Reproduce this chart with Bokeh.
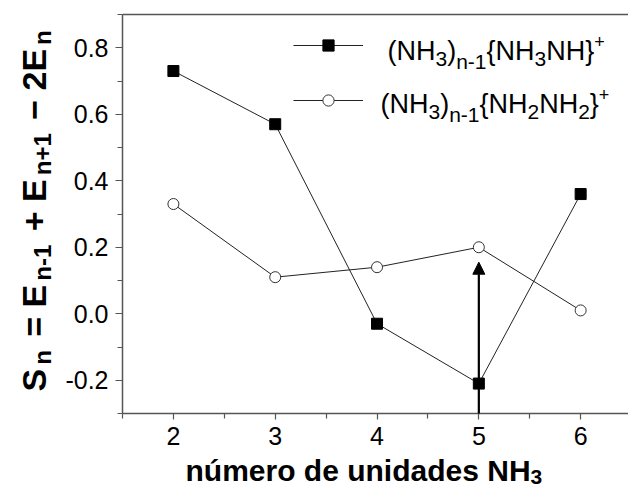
import math
from bokeh.plotting import figure
from bokeh.models import (Range1d, Label, Arrow, NormalHead, FixedTicker, LinearAxis,
                          NumeralTickFormatter, Legend, LegendItem)
from bokeh.embed import file_html
from bokeh.resources import INLINE

# ---- data ----
n_units = [2, 3, 4, 5, 6]
s_nh3nh = [0.73, 0.57, -0.03, -0.21, 0.36]
s_nh2nh2 = [0.33, 0.11, 0.14, 0.20, 0.01]
x_ticks = [2, 3, 4, 5, 6]
y_ticks = [-0.2, 0.0, 0.2, 0.4, 0.6, 0.8]
x_minor = [1.5, 2.5, 3.5, 4.5, 5.5]
y_minor = [-0.3, -0.1, 0.1, 0.3, 0.5, 0.7, 0.9]
x_lo, x_hi = 1.5, 6.47
y_lo, y_hi = -0.3, 0.9
arrow_x = 5
arrow_from = -0.3
arrow_to = 0.155

FONT = "Liberation Sans"
W, H = 628, 488
FL, FT, FB = 122, 14, 413  # plot area left, top, bottom (canvas px)

# frame covers the whole canvas; axes are drawn at fixed data locations
xs = (x_hi - x_lo) / (W - FL)
ys = (y_hi - y_lo) / (FB - FT)
p = figure(width=W, height=H, output_backend="svg", toolbar_location=None,
           x_range=Range1d(x_lo - FL * xs, x_hi),
           y_range=Range1d(y_lo - (H - FB) * ys, y_hi + FT * ys),
           x_axis_type=None, y_axis_type=None,
           min_border=0, min_border_left=0, min_border_right=0,
           min_border_top=0, min_border_bottom=0)
p.grid.visible = False
p.outline_line_color = None
p.background_fill_color = "white"
p.border_fill_color = "white"

AX = "#555555"
xaxis = LinearAxis(fixed_location=y_lo, bounds=(x_lo, x_hi),
                   ticker=FixedTicker(ticks=x_ticks, minor_ticks=x_minor))
yaxis = LinearAxis(fixed_location=x_lo, bounds=(y_lo, y_hi),
                   ticker=FixedTicker(ticks=y_ticks, minor_ticks=y_minor),
                   formatter=NumeralTickFormatter(format="0.0"))
topaxis = LinearAxis(fixed_location=y_hi, bounds=(x_lo, x_hi),
                     ticker=FixedTicker(ticks=[], minor_ticks=[]),
                     major_label_text_font_size="0px")
for ax in (xaxis, yaxis, topaxis):
    ax.axis_line_color = AX
    ax.axis_line_width = 1.5
    ax.major_tick_line_color = AX
    ax.minor_tick_line_color = AX
    ax.major_tick_line_width = 1.2
    ax.minor_tick_line_width = 1.2
    ax.major_tick_in = 0
    ax.minor_tick_in = 0
    ax.major_label_text_font = FONT
    ax.major_label_text_color = "black"
xaxis.major_label_text_font_size = "25px"
yaxis.major_label_text_font_size = "25px"
xaxis.major_tick_out = 6
xaxis.minor_tick_out = 5
yaxis.major_tick_out = 7
yaxis.minor_tick_out = 5
xaxis.major_label_standoff = 7
yaxis.major_label_standoff = 7
p.add_layout(xaxis, "below")
p.add_layout(yaxis, "left")
p.add_layout(topaxis, "above")

LINE = "#222222"
l1 = p.line(n_units, s_nh3nh, line_color=LINE, line_width=1)
m1 = p.scatter(n_units, s_nh3nh, marker="square", size=11, fill_color="black", line_color="black")
l2 = p.line(n_units, s_nh2nh2, line_color=LINE, line_width=1)
m2 = p.scatter(n_units, s_nh2nh2, marker="circle", size=11, fill_color="white", line_color="#333333", line_width=1)

p.add_layout(Arrow(end=NormalHead(size=12, fill_color="black", line_color="black"),
                   x_start=arrow_x, y_start=arrow_from, x_end=arrow_x, y_end=arrow_to,
                   line_width=2.2, line_color="black"))

legend = Legend(items=[LegendItem(label=" ", renderers=[l1, m1]),
                       LegendItem(label=" ", renderers=[l2, m2])],
                location=(293, H - 114), glyph_width=70, glyph_height=28,
                spacing=27, padding=0, margin=0, label_text_font_size="1px",
                label_width=0, label_standoff=0, border_line_color=None,
                background_fill_alpha=0)
p.add_layout(legend)

W_REG = {'(': 333, ')': 333, 'N': 722, 'H': 722, '3': 556, '2': 556, '1': 556,
         'n': 556, '-': 333, '{': 334, '}': 334, '+': 584, ' ': 278}
W_BOLD = {'S': 667, 'n': 611, '=': 584, ' ': 278, 'E': 667, '-': 333, '1': 556,
          '+': 584, '\u2212': 584, '2': 556, 'N': 722, 'H': 722, '3': 556,
          'ú': 611, 'm': 889, 'e': 556, 'r': 389, 'o': 611, 'd': 611, 'u': 611,
          'i': 278, 'a': 556, 's': 556}
MID = 0.15  # measured offset of the 'middle' anchor above the baseline, in em


def tw(s, size, bold):
    tbl = W_BOLD if bold else W_REG
    return sum(tbl.get(c, 556) for c in s) * size / 1000.0


def rich(pieces, x0, y0, bold=False, rotate=False, gap=0.0):
    """pieces of text placed one after another; x0, y0 = baseline start in canvas px."""
    adv = 0.0
    for text, size, dy in pieces:
        lead = len(text) - len(text.lstrip(" "))
        adv += tw(" " * lead, size, bold)
        t = text.strip(" ")
        if rotate:
            sx, sy, ang = x0 + dy - MID * size, H - (y0 - adv), math.pi / 2
        else:
            sx, sy, ang = x0 + adv, H - (y0 + dy - MID * size), 0
        p.add_layout(Label(x=sx, y=sy, x_units="screen", y_units="screen", text=t,
                           text_font=FONT, text_font_size=f"{size}px",
                           text_font_style="bold" if bold else "normal",
                           text_baseline="middle", text_align="left",
                           text_color="black", angle=ang))
        adv += tw(text.lstrip(" "), size, bold) + gap


# legend texts
rich([("(NH", 27, 0), ("3", 21, 7), (")", 27, 0), ("n-1", 21, 9), ("{NH", 27, 0),
      ("3", 21, 7), ("NH}", 27, 0), ("+", 18, -11)], 387, 55)
rich([("(NH", 27, 0), ("3", 21, 7), (")", 27, 0), ("n-1", 21, 9), ("{NH", 27, 0),
      ("2", 21, 7), ("NH", 27, 0), ("2", 21, 7), ("}", 27, 0), ("+", 18, -11)], 380, 108)

# axis titles
rich([("número de unidades NH", 30, 0), ("3", 21, 6)], 185, 474, bold=True)
rich([("S", 34, 0), ("n", 24, 7), (" = E", 34, 0), ("n-1", 24, 7), (" + E", 34, 0),
      ("n+1", 24, 7), (" \u2212 2E", 34, 0), ("n", 24, 7)], 39, 391, bold=True,
     rotate=True, gap=4)

open("out.html", "w").write(file_html(p, INLINE))
